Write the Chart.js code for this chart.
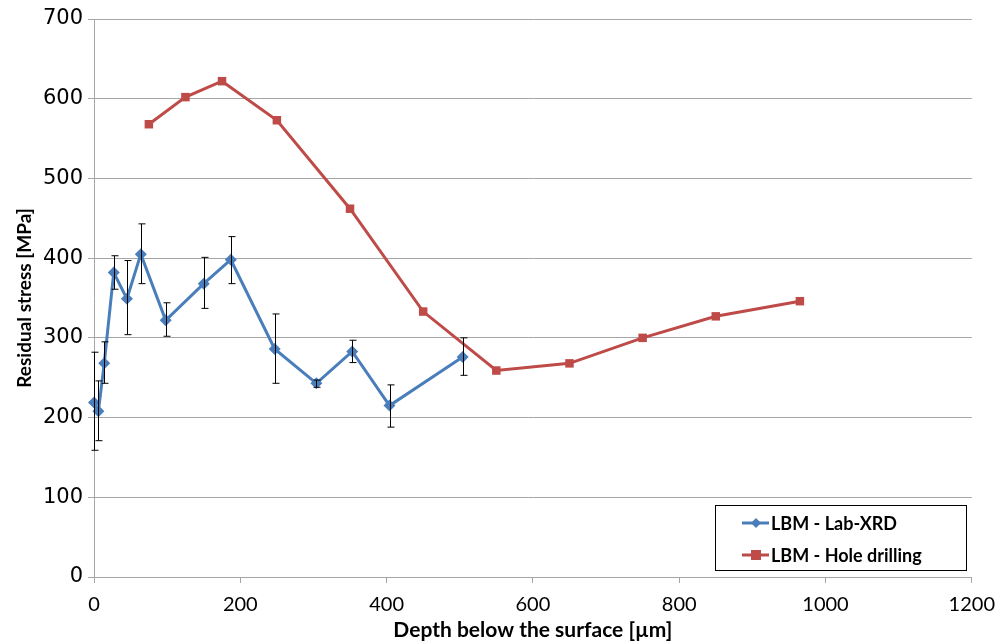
<!DOCTYPE html>
<html>
<head>
<meta charset="utf-8">
<script src="https://cdn.jsdelivr.net/npm/chart.js@4"></script>
<style>
  html, body { margin: 0; padding: 0; background: #fff; }
  #wrap { width: 1005px; height: 643px; }
</style>
</head>
<body>
<div id="wrap"><canvas id="stressChart" width="1005" height="643"></canvas></div>
<script>
// LBM - Lab-XRD (depth in µm, stress in MPa, error bar ends)
const xrdDepth = [0, 6, 14, 27, 45, 64, 98, 150, 187, 247, 304, 353, 404, 504];
const xrdStress = [219, 208, 268, 382, 349, 405, 322, 368, 398, 286, 243, 283, 215, 276];
const xrdErrHigh = [282, 246, 295, 403, 397, 443, 344, 401, 427, 330, 247, 297, 241, 300];
const xrdErrLow = [159, 171, 243, 361, 304, 368, 302, 337, 368, 243, 238, 269, 188, 253];

// LBM - Hole drilling
const holeDepth = [75, 125, 175, 250, 350, 450, 550, 650, 750, 850, 965];
const holeStress = [568, 602, 622, 573, 462, 333, 259, 268, 300, 327, 346];

const seriesLabels = ["LBM - Lab-XRD", "LBM - Hole drilling"];
const blue = "#4a7ebb";
const red = "#be4b48";
const gridGray = "#a6a6a6";

const toPoints = (xs, ys) => xs.map((x, i) => ({ x: x, y: ys[i] }));

// error bars for the XRD series
const errorBars = {
  id: "errorBars",
  afterDatasetsDraw(chart) {
    const { ctx, scales } = chart;
    ctx.save();
    ctx.strokeStyle = "#000";
    ctx.lineWidth = 1;
    xrdDepth.forEach((d, i) => {
      const px = Math.round(scales.x.getPixelForValue(d)) + 0.5;
      const top = scales.y.getPixelForValue(xrdErrHigh[i]);
      const bot = scales.y.getPixelForValue(xrdErrLow[i]);
      ctx.beginPath();
      ctx.moveTo(px, top);
      ctx.lineTo(px, bot);
      ctx.moveTo(px - 3, top);
      ctx.lineTo(px + 4, top);
      ctx.moveTo(px - 3, bot);
      ctx.lineTo(px + 4, bot);
      ctx.stroke();
    });
    ctx.restore();
  },
};

// legend box drawn inside the plot area, bottom right
const boxLegend = {
  id: "boxLegend",
  afterDraw(chart) {
    const { ctx } = chart;
    const left = 715, top = 505, w = 251, h = 65;
    ctx.save();
    ctx.fillStyle = "#fff";
    ctx.fillRect(left, top, w, h);
    ctx.strokeStyle = "#000";
    ctx.lineWidth = 1;
    ctx.strokeRect(left + 0.5, top + 0.5, w, h);
    chart.data.datasets.forEach((ds, i) => {
      const y = top + 18 + i * 32;
      ctx.strokeStyle = ds.borderColor;
      ctx.lineWidth = 3;
      ctx.beginPath();
      ctx.moveTo(742, y);
      ctx.lineTo(769, y);
      ctx.stroke();
      ctx.fillStyle = ds.backgroundColor;
      if (ds.pointStyle === "rectRot") {
        ctx.beginPath();
        ctx.moveTo(756, y - 5);
        ctx.lineTo(761, y);
        ctx.lineTo(756, y + 5);
        ctx.lineTo(751, y);
        ctx.closePath();
        ctx.fill();
      } else {
        ctx.fillRect(751, y - 5, 10, 10);
      }
      ctx.fillStyle = "#000";
      ctx.font = "bold 18px Lato";
      ctx.textBaseline = "middle";
      ctx.fillText(ds.label, 771, y + 1);
    });
    ctx.restore();
  },
};

new Chart(document.getElementById("stressChart"), {
  type: "scatter",
  data: {
    datasets: [
      {
        label: seriesLabels[0],
        data: toPoints(xrdDepth, xrdStress),
        showLine: true,
        clip: false,
        borderColor: blue,
        backgroundColor: blue,
        borderWidth: 3,
        pointStyle: "rectRot",
        pointRadius: 6,
        pointBorderWidth: 0,
      },
      {
        label: seriesLabels[1],
        data: toPoints(holeDepth, holeStress),
        showLine: true,
        clip: false,
        borderColor: red,
        backgroundColor: red,
        borderWidth: 3,
        pointStyle: "rect",
        pointRadius: 6,
        pointBorderWidth: 0,
      },
    ],
  },
  options: {
    responsive: false,
    animation: false,
    layout: { padding: { left: 0, top: 19, right: 33, bottom: 0 } },
    scales: {
      x: {
        type: "linear",
        min: 0,
        max: 1200,
        afterFit: (s) => { s.height = 66; },
        ticks: {
          stepSize: 200,
          color: "#000",
          padding: 10,
          font: { family: "Lato", size: 20 },
          callback: (v) => String(v),
        },
        grid: {
          drawOnChartArea: false,
          color: gridGray,
          tickLength: 6,
        },
        border: { color: gridGray, width: 1 },
        title: {
          display: true,
          text: "Depth below the surface [µm]",
          color: "#000",
          padding: { top: 0, bottom: 0 },
          font: { family: "Lato", size: 21, weight: "bold" },
        },
      },
      y: {
        min: 0,
        max: 700,
        afterFit: (s) => { s.width = 94; },
        ticks: {
          stepSize: 100,
          color: "#000",
          padding: 5,
          font: { family: "DejaVu Sans", size: 21 },
        },
        grid: {
          color: gridGray,
          tickLength: 6,
        },
        border: { color: gridGray, width: 1 },
        title: {
          display: true,
          text: "Residual stress [MPa]",
          color: "#000",
          padding: { top: 13, bottom: 0 },
          font: { family: "Lato", size: 19, weight: "bold" },
        },
      },
    },
    plugins: {
      legend: { display: false },
      tooltip: { enabled: false },
    },
  },
  plugins: [errorBars, boxLegend],
});
</script>
</body>
</html>
